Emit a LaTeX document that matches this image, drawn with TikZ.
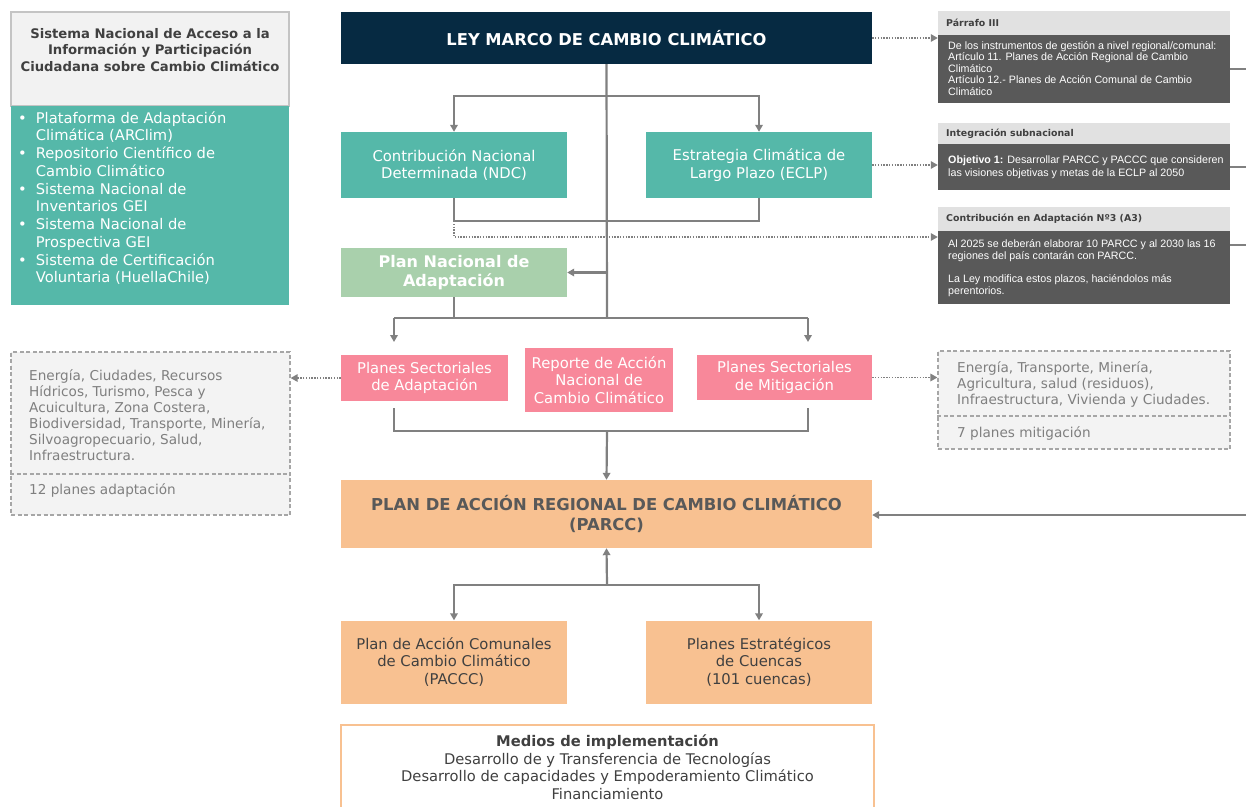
\documentclass[tikz,border=0pt]{standalone}
\usepackage{fontspec}
\setmainfont{DejaVu Sans}
\newfontfamily\narrowfont{Liberation Sans}
\usetikzlibrary{arrows.meta,calc}
\definecolor{navy}{HTML}{062A42}
\definecolor{tealc}{HTML}{55B8A9}
\definecolor{greenc}{HTML}{A9D0AC}
\definecolor{pinkc}{HTML}{F8889A}
\definecolor{orangec}{HTML}{F8C191}
\definecolor{darkbody}{HTML}{595959}
\definecolor{lighthead}{HTML}{E1E1E1}
\definecolor{linegray}{HTML}{808080}
\definecolor{txtdark}{HTML}{404040}
\definecolor{txtgray}{HTML}{7F7F7F}
\definecolor{dashfill}{HTML}{F3F3F3}
\definecolor{dashdraw}{HTML}{A6A6A6}
\definecolor{lhfill}{HTML}{F2F2F2}
\definecolor{lhdraw}{HTML}{C4C4C4}
\tikzset{
  x=1pt, y=-1pt,
  bx/.style={inner sep=0pt, align=center, anchor=center},
  conn/.style={draw=linegray, line width=2.2pt},
  arr/.style={conn, -{Triangle[length=7pt,width=7.5pt]}},
  dots/.style={draw=linegray, line width=1.4pt, dash pattern=on 1.4pt off 1.4pt, -{Triangle[length=7pt,width=7.5pt]}},
  mainfnt/.style={font=\fontsize{14.8}{17.5}\selectfont},
  headfnt/.style={font=\fontsize{9.4}{11}\selectfont\bfseries, text=txtdark},
  bodyfnt/.style={font=\narrowfont\fontsize{10.7}{11.6}\selectfont, text=white},
  dashfnt/.style={font=\fontsize{13.6}{16}\selectfont},
  dashbox/.style={bx, fill=dashfill, draw=dashdraw, line width=1.2pt, dash pattern=on 4pt off 2.5pt},
}
\begin{document}
\begin{tikzpicture}
\useasboundingbox (0,0) rectangle (1246,806);
\fill[white] (0,0) rectangle (1246,806);

% ---------- left information system box
\node[bx, fill=lhfill, draw=lhdraw, line width=1.2pt, minimum width=278, minimum height=94] (lhead) at (150,59) {};
\node[bx, fill=tealc, minimum width=278, minimum height=199] (lbody) at (150,205.5) {};
\node[bx, font=\fontsize{13.2}{16.6}\selectfont\bfseries, text=txtdark] (ltitle) at (150,50)
  {Sistema Nacional de Acceso a la\\Información y Participación\\Ciudadana sobre Cambio Climático};
\node[inner sep=0pt, anchor=north west, text=white, font=\fontsize{14.7}{17.75}\selectfont] (lbul) at (18,110.5)
  {\begin{tabular}{@{}l@{\hspace{9pt}}l@{}}
  • & Plataforma de Adaptación\\ & Climática (ARClim)\\
  • & Repositorio Científico de\\ & Cambio Climático\\
  • & Sistema Nacional de\\ & Inventarios GEI\\
  • & Sistema Nacional de\\ & Prospectiva GEI\\
  • & Sistema de Certificación\\ & Voluntaria (HuellaChile)
  \end{tabular}};

% ---------- central column
\node[bx, fill=navy, minimum width=531, minimum height=52, text=white, font=\fontsize{16.3}{19}\selectfont\bfseries] (ley) at (606.5,38) {LEY MARCO DE CAMBIO CLIMÁTICO};
\node[bx, fill=tealc, minimum width=226, minimum height=66, text=white, mainfnt] (ndc) at (454,165) {Contribución Nacional\\Determinada (NDC)};
\node[bx, fill=tealc, minimum width=226, minimum height=66, text=white, mainfnt] (eclp) at (759,165) {Estrategia Climática de\\Largo Plazo (ECLP)};
\node[bx, fill=greenc, minimum width=226, minimum height=49, text=white, font=\fontsize{16}{19.5}\selectfont\bfseries] (pna) at (454,272.5) {Plan Nacional de\\Adaptación};
\node[bx, fill=pinkc, minimum width=167, minimum height=46, text=white, mainfnt] (psa) at (424.5,378) {Planes Sectoriales\\de Adaptación};
\node[bx, fill=pinkc, minimum width=148, minimum height=64, text=white, mainfnt] (rep) at (599,380) {Reporte de Acción\\Nacional de\\Cambio Climático};
\node[bx, fill=pinkc, minimum width=175, minimum height=45, text=white, mainfnt] (psm) at (784.5,377.5) {Planes Sectoriales\\de Mitigación};
\node[bx, fill=orangec, minimum width=531, minimum height=68, text=darkbody, font=\fontsize{16.4}{20}\selectfont\bfseries] (parcc) at (606.5,514) {PLAN DE ACCIÓN REGIONAL DE CAMBIO CLIMÁTICO\\(PARCC)};
\node[bx, fill=orangec, minimum width=226, minimum height=83, text=txtdark, mainfnt] (paccc) at (454,662) {Plan de Acción Comunales\\de Cambio Climático\\(PACCC)};
\node[bx, fill=orangec, minimum width=226, minimum height=83, text=txtdark, mainfnt] (cuen) at (759,662) {Planes Estratégicos\\de Cuencas\\(101 cuencas)};
\node[bx, fill=white, minimum width=533, minimum height=90, text=txtdark] (medios) at (607.5,770) {};
\draw[draw=orangec, line width=1.6pt] (medios.south west) -- (medios.north west) -- (medios.north east) -- (medios.south east);
\node[bx, text=txtdark, font=\fontsize{14.7}{17.6}\selectfont, anchor=north] (mtext) at (607.5,734.5)
  {\textbf{Medios de implementación}\\Desarrollo de y Transferencia de Tecnologías\\Desarrollo de capacidades y Empoderamiento Climático\\Financiamiento};

% ---------- right grey boxes
\node[bx, fill=lighthead, minimum width=292, minimum height=24] (p3h) at (1084,23) {};
\node[headfnt, anchor=west, inner sep=0pt] (p3t) at (946,23) {Párrafo III};
\node[bx, fill=darkbody, minimum width=292, minimum height=68] (p3b) at (1084,69) {};
\node[bodyfnt, anchor=north west, inner sep=0pt, align=left] (p3x) at (948,41)
  {De los instrumentos de gestión a nivel regional/comunal:\\Artículo 11. Planes de Acción Regional de Cambio\\Climático\\Artículo 12.- Planes de Acción Comunal de Cambio\\Climático};

\node[bx, fill=lighthead, minimum width=292, minimum height=21] (ish) at (1084,133.5) {};
\node[headfnt, anchor=west, inner sep=0pt] (ist) at (946,133.5) {Integración subnacional};
\node[bx, fill=darkbody, minimum width=292, minimum height=46] (isb) at (1084,167) {};
\node[bodyfnt, font=\narrowfont\fontsize{10.7}{12.8}\selectfont, anchor=west, inner sep=0pt, align=left] (isx) at (948,167.5)
  {\textbf{Objetivo 1:} Desarrollar PARCC y PACCC que consideren\\las visiones objetivas y metas de la ECLP al 2050};

\node[bx, fill=lighthead, minimum width=292, minimum height=24] (cah) at (1084,219) {};
\node[headfnt, anchor=west, inner sep=0pt] (cat) at (946,219) {Contribución en Adaptación Nº3 (A3)};
\node[bx, fill=darkbody, minimum width=292, minimum height=73] (cab) at (1084,267.5) {};
\node[bodyfnt, font=\narrowfont\fontsize{10.7}{12}\selectfont, anchor=north west, inner sep=0pt, align=left] (cax) at (948,239.5)
  {Al 2025 se deberán elaborar 10 PARCC y al 2030 las 16\\regiones del país contarán con PARCC.\\[11pt]La Ley modifica estos plazos, haciéndolos más\\perentorios.};

% ---------- dashed boxes
\node[dashbox, minimum width=279, minimum height=163] (ldash) at (150.5,433.5) {};
\draw[draw=dashdraw, line width=1.2pt, dash pattern=on 4pt off 2.5pt] (ldash.west |- 0,474) -- (ldash.east |- 0,474);
\node[inner sep=0pt, anchor=north west, align=left, text=txtgray, dashfnt] (ldtext) at (29,369.5)
  {Energía, Ciudades, Recursos\\Hídricos, Turismo, Pesca y\\Acuicultura, Zona Costera,\\Biodiversidad, Transporte, Minería,\\Silvoagropecuario, Salud,\\Infraestructura.};
\node[inner sep=0pt, anchor=west, text=txtgray, dashfnt] (ldcount) at (29,490.5) {12 planes adaptación};

\node[dashbox, minimum width=292, minimum height=98] (rdash) at (1084,400) {};
\draw[draw=dashdraw, line width=1.2pt, dash pattern=on 4pt off 2.5pt] (rdash.west |- 0,416) -- (rdash.east |- 0,416);
\node[inner sep=0pt, anchor=north west, align=left, text=txtgray, dashfnt] (rdtext) at (957,361.5)
  {Energía, Transporte, Minería,\\Agricultura, salud (residuos),\\Infraestructura, Vivienda y Ciudades.};
\node[inner sep=0pt, anchor=west, text=txtgray, dashfnt] (rdcount) at (957,433.5) {7 planes mitigación};

% ---------- junction coordinates
\coordinate (b1) at (607,96);
\coordinate (b2) at (607,272.5);
\coordinate (b3) at (607,318);
\coordinate (b6) at (607,221);
\coordinate (d6) at (454,237);
\coordinate (a1) at (394,318);
\coordinate (a2) at (808,318);
\coordinate (t1) at (394,342);
\coordinate (t2) at (808,342);
\coordinate (c1) at (394,408);
\coordinate (c2) at (808,408);
\coordinate (b4) at (607,431);
\coordinate (b5) at (607,585);
\coordinate (e1) at (1246,69);
\coordinate (e2) at (1246,167);
\coordinate (e3) at (1246,245);
\coordinate (e4) at (1246,515);

% ---------- connectors
\draw[conn] (ley.south) -- (b3);
\draw[arr] (b1) -| (ndc.north);
\draw[arr] (b1) -| (eclp.north);
\draw[conn] (ndc.south) |- (b6) -| (eclp.south);
\draw[arr] (b2) -- (pna.east);
\draw[conn] (pna.south) -- (pna.south |- b3);
\draw[conn] (a1) -- (a2);
\draw[arr] (a1) -- (t1);
\draw[arr] (a2) -- (t2);
\draw[conn] (c1) |- (b4) -| (c2);
\draw[arr] (b4) -- (parcc.north);
\draw[arr] (b5) -- (parcc.south);
\draw[arr] (b5) -| (paccc.north);
\draw[arr] (b5) -| (cuen.north);
\draw[arr] (e4) -- (e4 -| parcc.east);

\draw[dots] (ley.east) -- (ley.east -| p3b.west);
\draw[dots] (eclp.east) -- (eclp.east -| isb.west);
\draw[dots] (ndc.south |- b6) -- (d6) -- (d6 -| cab.west);
\draw[dots] (psa.west) -- (psa.west -| ldash.east);
\draw[dots] (psm.east) -- (psm.east -| rdash.west);

\draw[conn, line width=1.6pt] (p3b.east |- e1) -- (e1);
\draw[conn, line width=1.6pt] (isb.east |- e2) -- (e2);
\draw[conn, line width=1.6pt] (cab.east |- e3) -- (e3);
\end{tikzpicture}
\end{document}
